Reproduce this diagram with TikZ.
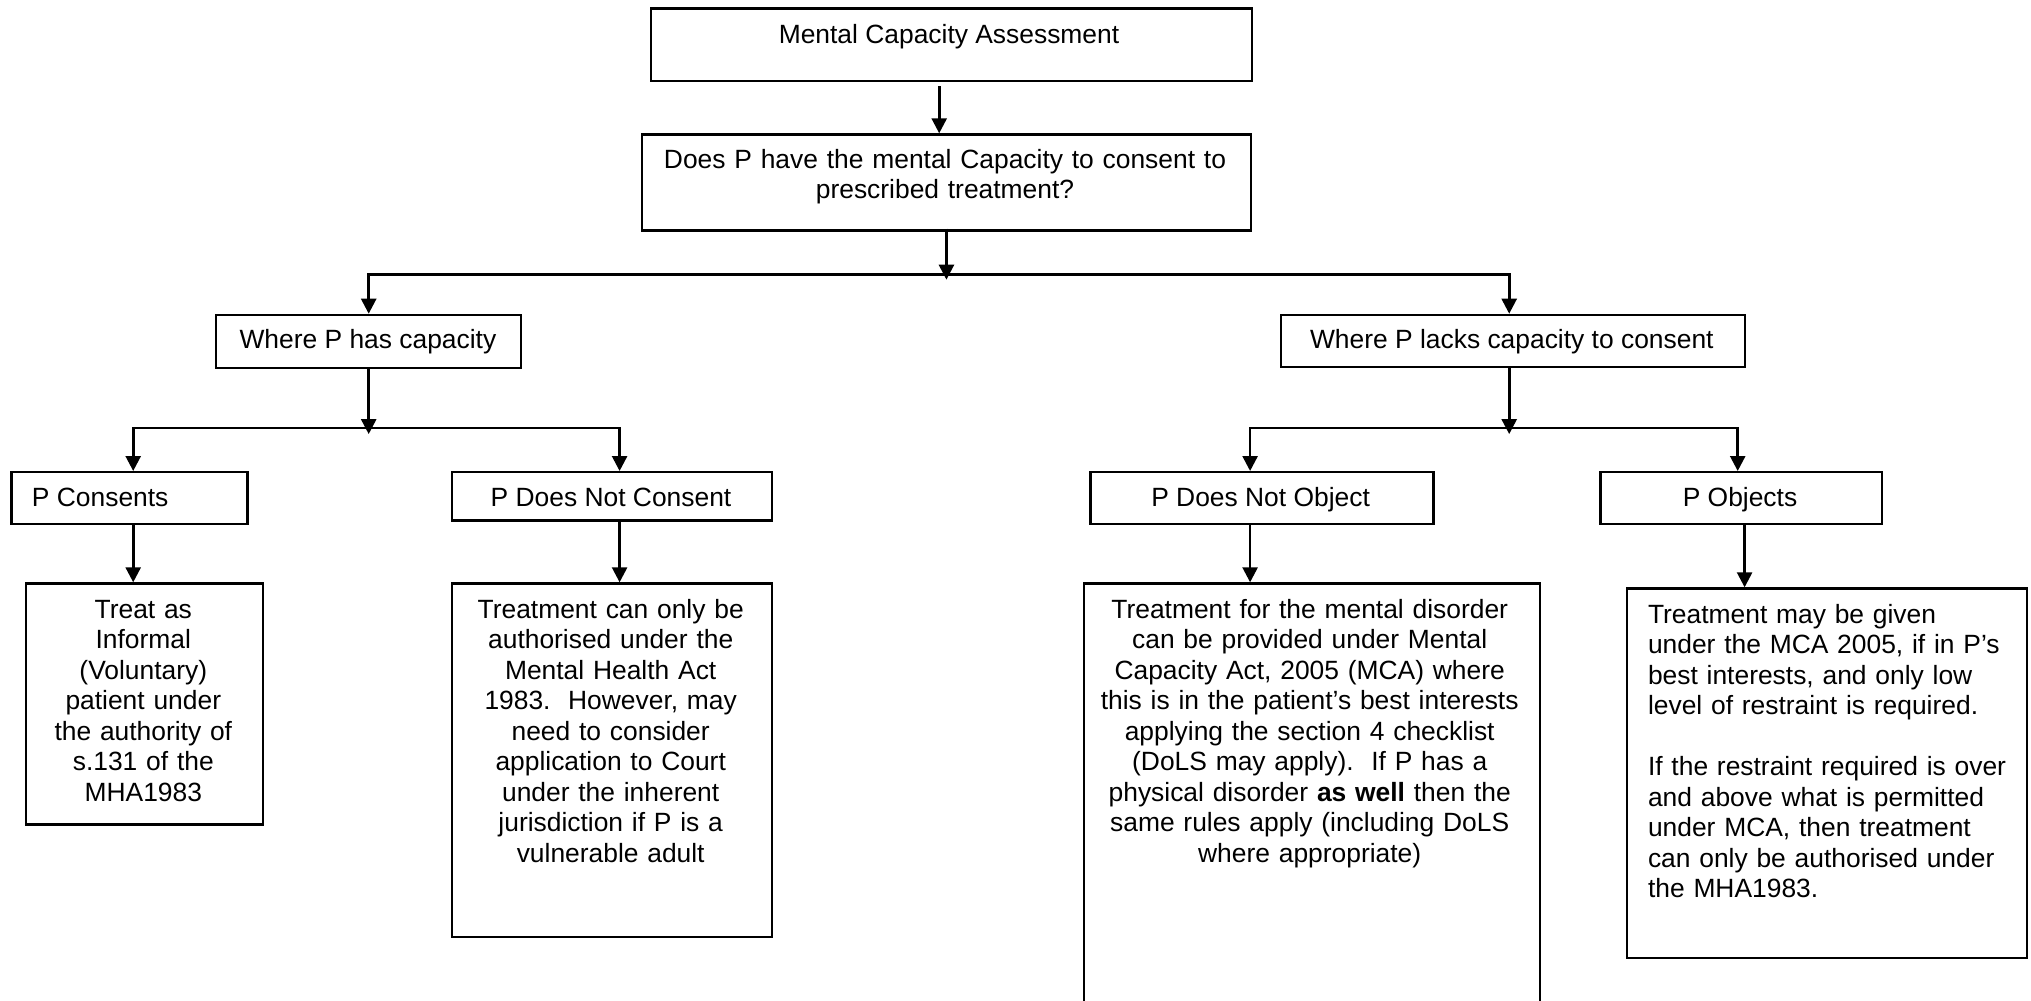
\documentclass[tikz,border=0pt]{standalone}
\usepackage{fontspec}
\setmainfont{Liberation Sans}
\usetikzlibrary{arrows.meta,calc}
\begin{document}
\begin{tikzpicture}[x=0.5pt,y=-0.5pt,
  box/.style={draw,line width=1.2pt,rectangle,inner sep=0pt,anchor=north west},
  lbl/.style={inner sep=0pt,font=\fontsize{13.2}{15.25}\selectfont},
  para/.style={lbl,align=center,anchor=base},
  arr/.style={line width=1.3pt,-{Triangle[length=7.5pt,width=7.5pt]}}]
\clip (0,0) rectangle (2031,1001);
\fill[white] (0,0) rectangle (2031,1001);

% boxes
\node[box,minimum width=300.5pt,minimum height=36.35pt] (A) at (649.5,7.3) {};
\node[box,minimum width=304.25pt,minimum height=48pt] (B) at (641,133.3) {};
\node[box,minimum width=152.5pt,minimum height=26.5pt] (C1) at (215,313.7) {};
\node[box,minimum width=232pt,minimum height=26.15pt] (C2) at (1280,313.7) {};
\node[box,minimum width=118.1pt,minimum height=25.85pt] (D1) at (10.2,471) {};
\node[box,minimum width=160pt,minimum height=24.15pt] (D2) at (451,471) {};
\node[box,minimum width=171.5pt,minimum height=25.85pt] (D3) at (1089.4,471) {};
\node[box,minimum width=140.8pt,minimum height=25.85pt] (D4) at (1599.4,471) {};
\node[box,minimum width=118.35pt,minimum height=120.5pt] (E1) at (25,582.3) {};
\node[box,minimum width=160pt,minimum height=176.85pt] (E2) at (451,582.3) {};
\node[box,minimum width=228.1pt,minimum height=218.85pt] (E3) at (1082.5,582.3) {};
\node[box,minimum width=200.15pt,minimum height=184.7pt] (E4) at (1625.7,587.3) {};

% texts
\node[lbl,anchor=base] (tA) at (949,43) {Mental Capacity Assessment};
\node[para,text width=300pt] (tB) at (945,168.3) {Does P have the mental Capacity to consent to\\prescribed treatment?};
\node[lbl,anchor=base] (tC1) at (367.9,348.3) {Where P has capacity};
\node[lbl,anchor=base] (tC2) at (1511.8,348.3) {Where P lacks capacity to consent};
\node[lbl,anchor=base west] (tD1) at (31.6,506.7) {P Consents};
\node[lbl,anchor=base] (tD2) at (611,506.7) {P Does Not Consent};
\node[lbl,anchor=base] (tD3) at (1260.6,506.7) {P Does Not Object};
\node[lbl,anchor=base] (tD4) at (1740,506.7) {P Objects};
\node[para,text width=115pt] (tE1) at (143.3,618.3) {Treat as\\Informal\\(Voluntary)\\patient under\\the authority of\\s.131 of the\\MHA1983};
\node[para,text width=155pt] (tE2) at (610.7,618.3) {Treatment can only be\\authorised under the\\Mental Health Act\\1983.\ \ However, may\\need to consider\\application to Court\\under the inherent\\jurisdiction if P is a\\vulnerable adult};
\node[para,text width=225pt] (tE3) at (1309.7,618.3) {Treatment for the mental disorder\\can be provided under Mental\\Capacity Act, 2005 (MCA) where\\this is in the patient’s best interests\\applying the section 4 checklist\\(DoLS may apply).\ \ If P has a\\physical disorder \textbf{as well} then the\\same rules apply (including DoLS\\where appropriate)};
\node[lbl,align=left,anchor=base west,text width=187.5pt] (tE4) at (1647.6,623.3) {Treatment may be given\\under the MCA 2005, if in P’s\\best interests, and only low\\level of restraint is required.\\[15.25pt]If the restraint required is over\\and above what is permitted\\under MCA, then treatment\\can only be authorised under\\the MHA1983.};

% connectors
\coordinate (a1s) at ([shift={(-12,4)}]A.south);
\draw[arr] (a1s) -- (a1s |- B.north);

\coordinate (bS) at ([shift={(0,-3)}]B.south);
\coordinate (h1) at ([shift={(0,43)}]B.south);
\coordinate (j1) at ([shift={(0,48)}]B.south);
\draw[arr] (bS) -- (j1);
\coordinate (c2n) at ([shift={(-4,0)}]C2.north);
\draw[arr] (h1) -| (C1.north);
\draw[arr] (h1) -| (c2n);

\coordinate (h2) at ([shift={(0,59)}]C1.south);
\coordinate (j2) at ([shift={(0,65)}]C1.south);
\draw[arr] (C1.south) -- (j2);
\coordinate (d1n) at ([shift={(3.7,0)}]D1.north);
\coordinate (d2n) at ([shift={(7.4,0)}]D2.north);
\draw[arr] (h2) -| (d1n);
\draw[arr] (h2) -| (d2n);
\coordinate (d1s) at ([shift={(3.7,0)}]D1.south);
\draw[arr] (d1s) -- (d1s |- E1.north);
\coordinate (d2s) at ([shift={(7.4,0)}]D2.south);
\draw[arr] (d2s) -- (d2s |- E2.north);

\coordinate (c2s) at ([shift={(-4,0)}]C2.south);
\coordinate (h3) at ([shift={(0,59.7)}]c2s);
\coordinate (j3) at ([shift={(0,65.7)}]c2s);
\draw[arr] (c2s) -- (j3);
\coordinate (d3n) at ([shift={(-12,0)}]D3.north);
\coordinate (d4n) at ([shift={(-3.7,0)}]D4.north);
\draw[arr] (h3) -| (d3n);
\draw[arr] (h3) -| (d4n);
\coordinate (d3s) at ([shift={(-12,0)}]D3.south);
\draw[arr] (d3s) -- (d3s |- E3.north);
\coordinate (d4s) at ([shift={(3.2,0)}]D4.south);
\draw[arr] (d4s) -- (d4s |- E4.north);
\end{tikzpicture}
\end{document}
